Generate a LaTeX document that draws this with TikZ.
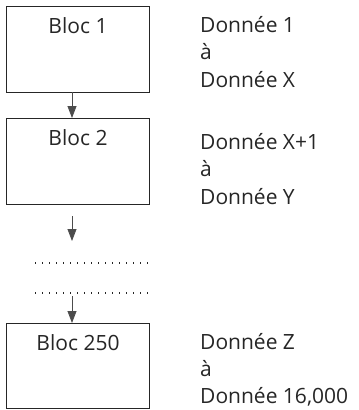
\documentclass[tikz,border=0pt]{standalone}
\usepackage{fontspec}
\setmainfont{Open Sans}
\usetikzlibrary{arrows.meta}
\begin{document}
\begin{tikzpicture}[x=1bp,y=1bp,
  bloc/.style={draw=black!85, line width=0.8bp, minimum width=143bp, minimum height=86bp, inner sep=0pt, anchor=north west},
  bloclabel/.style={font=\fontsize{21bp}{25bp}\selectfont, text=black!85, anchor=base, inner sep=0pt},
  datalabel/.style={font=\fontsize{21bp}{25bp}\selectfont, text=black!85, anchor=base west, inner sep=0pt},
  flow/.style={draw=black!70, line width=0.8bp, -{Triangle[length=12bp,width=9bp]}},
  dotline/.style={draw=black!85, line width=1.2bp, dash pattern=on 1.2bp off 5.8bp}
]
\useasboundingbox (0,0) rectangle (359,-410);
\node[bloc] (b1) at (6,-6) {};
\node[bloc] (b2) at (6,-118) {};
\node[bloc, minimum height=85bp] (b3) at (6,-323) {};
\node[bloclabel] (t1) at (78,-33) {Bloc 1};
\node[bloclabel] (t2) at (78,-145) {Bloc 2};
\node[bloclabel] (t3) at (78,-350) {Bloc 250};
\node[datalabel] (d1a) at (200,-32) {Donnée 1};
\node[datalabel] (d1b) at (200,-59.5) {à};
\node[datalabel] (d1c) at (200,-87) {Donnée X};
\node[datalabel] (d2a) at (200,-149) {Donnée X+1};
\node[datalabel] (d2b) at (200,-176.5) {à};
\node[datalabel] (d2c) at (200,-204) {Donnée Y};
\node[datalabel] (d3a) at (200,-349) {Donnée Z};
\node[datalabel] (d3b) at (200,-376) {à};
\node[datalabel] (d3c) at (200,-403) {Donnée 16,000};
\coordinate (a1s) at (72,-92);
\coordinate (a1e) at (72,-118);
\coordinate (a2s) at (72,-216);
\coordinate (a2e) at (72,-241);
\coordinate (a3s) at (72,-296);
\coordinate (a3e) at (72,-323);
\draw[flow] (a1s) -- (a1e);
\draw[flow] (a2s) -- (a2e);
\draw[flow] (a3s) -- (a3e);
\coordinate (l1a) at (35,-263);
\coordinate (l1b) at (151,-263);
\coordinate (l2a) at (35,-293);
\coordinate (l2b) at (151,-293);
\draw[dotline] (l1a) -- (l1b);
\draw[dotline] (l2a) -- (l2b);
\end{tikzpicture}
\end{document}
